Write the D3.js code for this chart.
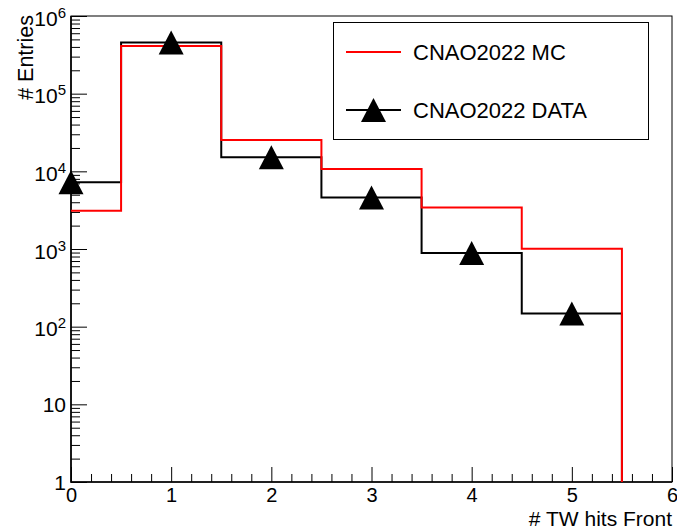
<!DOCTYPE html>
<html>
<head>
<meta charset="utf-8">
<script src="https://cdn.jsdelivr.net/npm/d3@7"></script>
<style>
  html, body { margin: 0; padding: 0; background: #fff; }
  svg { display: block; }
  text { font-family: "Liberation Sans", Arial, Helvetica, sans-serif; fill: #000; }
</style>
</head>
<body>
<svg id="chart" width="677" height="531"></svg>
<script>
// Bin centres (unit-wide bins) and entries per bin
const binCenters  = [0, 1, 2, 3, 4, 5];
const mcEntries   = [3100, 412000, 25400, 10700, 3430, 1005];
const dataEntries = [7250, 456000, 15200, 4610, 885, 148];

// Axis ticks
const xMajorTicks = [0, 1, 2, 3, 4, 5, 6];
const yDecades    = [0, 1, 2, 3, 4, 5, 6];   // exponents of the decade ticks
const legendLabels = ["CNAO2022 MC", "CNAO2022 DATA"];

const xTitle = "# TW hits Front";
const yTitle = "# Entries";

const MC_COLOR = "#ff0000";
const DATA_COLOR = "#000000";

const svg = d3.select("#chart");
const frame = { left: 71, right: 672, top: 16, bottom: 482 };

const x = d3.scaleLinear().domain([0, 6]).range([frame.left, frame.right]);
const y = d3.scaleLog().domain([1, 1e6]).range([frame.bottom, frame.top]);

// clip region for the histograms
svg.append("defs").append("clipPath").attr("id", "plotClip")
  .append("rect")
  .attr("x", frame.left).attr("y", frame.top)
  .attr("width", frame.right - frame.left)
  .attr("height", frame.bottom - frame.top);

// ---- axes ----
const xMinor = d3.range(0, 6.0001, 0.2).filter(v => Math.abs(v - Math.round(v)) > 1e-6);
const yMinor = [];
for (let e = 0; e < 6; e++) for (let k = 2; k <= 9; k++) yMinor.push(k * Math.pow(10, e));

const gX = svg.append("g").attr("transform", `translate(0,${frame.bottom})`);
gX.call(d3.axisBottom(x).tickValues(xMinor).tickSize(-8).tickFormat(""));
gX.call(g => g.select(".domain").remove());
const gXMaj = svg.append("g").attr("transform", `translate(0,${frame.bottom})`);
gXMaj.call(d3.axisBottom(x).tickValues(xMajorTicks).tickSize(-15).tickPadding(0).tickFormat(d3.format("d")));
gXMaj.select(".domain").remove();
gXMaj.selectAll(".tick text")
  .attr("y", 20).attr("dy", 0)
  .style("font-size", "20px")
  .attr("font-family", null);

const gY = svg.append("g").attr("transform", `translate(${frame.left},0)`);
gY.call(d3.axisLeft(y).tickValues(yMinor).tickSize(-9).tickFormat(""));
gY.select(".domain").remove();
const gYMaj = svg.append("g").attr("transform", `translate(${frame.left},0)`);
gYMaj.call(d3.axisLeft(y).tickValues(yDecades.map(e => Math.pow(10, e))).tickSize(-16).tickFormat(""));
gYMaj.select(".domain").remove();

// decade labels: 1, 10, 10^2 ... 10^6
gYMaj.selectAll(".tick").each(function (d) {
  const e = Math.round(Math.log10(d));
  const t = d3.select(this).append("text")
    .attr("x", -5)
    .attr("text-anchor", "end")
    .style("font-size", "21px");
  if (e <= 1) {
    t.attr("y", 7.5).text(e === 0 ? "1" : "10");
  } else {
    t.attr("y", 9);
    t.append("tspan").text("10");
    t.append("tspan").attr("dy", -8).style("font-size", "15px").text(String(e));
  }
});

svg.selectAll(".tick line").attr("stroke", "#000").attr("stroke-width", 1);

// frame
svg.append("rect")
  .attr("x", frame.left).attr("y", frame.top)
  .attr("width", frame.right - frame.left)
  .attr("height", frame.bottom - frame.top)
  .attr("fill", "none").attr("stroke", "#000").attr("stroke-width", 1);
// slightly heavier axis lines along left and bottom
svg.append("path")
  .attr("d", `M${frame.left},${frame.top}V${frame.bottom}H${frame.right}`)
  .attr("fill", "none").attr("stroke", "#000").attr("stroke-width", 1.6);

// ---- histograms ----
function stepPoints(values) {
  const pts = [[binCenters[0] - 0.5, 1]];
  binCenters.forEach((c, i) => {
    pts.push([c - 0.5, values[i]]);
    pts.push([c + 0.5, values[i]]);
  });
  pts.push([binCenters[binCenters.length - 1] + 0.5, 1]);
  return pts;
}
const stepLine = d3.line().x(p => x(p[0])).y(p => y(p[1]));

const plot = svg.append("g").attr("clip-path", "url(#plotClip)");
plot.append("path")
  .attr("d", stepLine(stepPoints(dataEntries)))
  .attr("fill", "none").attr("stroke", DATA_COLOR).attr("stroke-width", 2);
plot.append("path")
  .attr("d", stepLine(stepPoints(mcEntries)))
  .attr("fill", "none").attr("stroke", MC_COLOR).attr("stroke-width", 2);

// full up-triangle marker, centred on its bounding box
const MARKER_W = 25, MARKER_H = 24;
const trianglePath = `M0,${-MARKER_H / 2}L${MARKER_W / 2},${MARKER_H / 2}L${-MARKER_W / 2},${MARKER_H / 2}Z`;

svg.append("g").selectAll("path")
  .data(binCenters.map((c, i) => [c, dataEntries[i]]))
  .join("path")
  .attr("d", trianglePath)
  .attr("transform", d => `translate(${x(d[0])},${y(d[1])})`)
  .attr("fill", DATA_COLOR);

// ---- axis titles ----
svg.append("text")
  .attr("x", frame.right).attr("y", 526)
  .attr("text-anchor", "end")
  .style("font-size", "21px")
  .text(xTitle);

svg.append("text")
  .attr("transform", `translate(33,15) rotate(-90)`)
  .attr("text-anchor", "end")
  .style("font-size", "21.5px")
  .text(yTitle);

// ---- legend ----
const legend = svg.append("g");
legend.append("rect")
  .attr("x", 333.5).attr("y", 22.5).attr("width", 315).attr("height", 117)
  .attr("fill", "#fff").attr("stroke", "#000").attr("stroke-width", 1);

const rows = [52, 110];
legend.append("line")
  .attr("x1", 346).attr("x2", 401).attr("y1", rows[0]).attr("y2", rows[0])
  .attr("stroke", MC_COLOR).attr("stroke-width", 2);
legend.append("line")
  .attr("x1", 346).attr("x2", 401).attr("y1", rows[1]).attr("y2", rows[1])
  .attr("stroke", DATA_COLOR).attr("stroke-width", 2);
legend.append("path")
  .attr("d", trianglePath)
  .attr("transform", `translate(373.5,${rows[1]})`)
  .attr("fill", DATA_COLOR);

legend.selectAll("text.lbl")
  .data(legendLabels)
  .join("text")
  .attr("class", "lbl")
  .attr("x", 413)
  .attr("y", (d, i) => rows[i] + 8)
  .style("font-size", "22px")
  .text(d => d);
</script>
</body>
</html>
